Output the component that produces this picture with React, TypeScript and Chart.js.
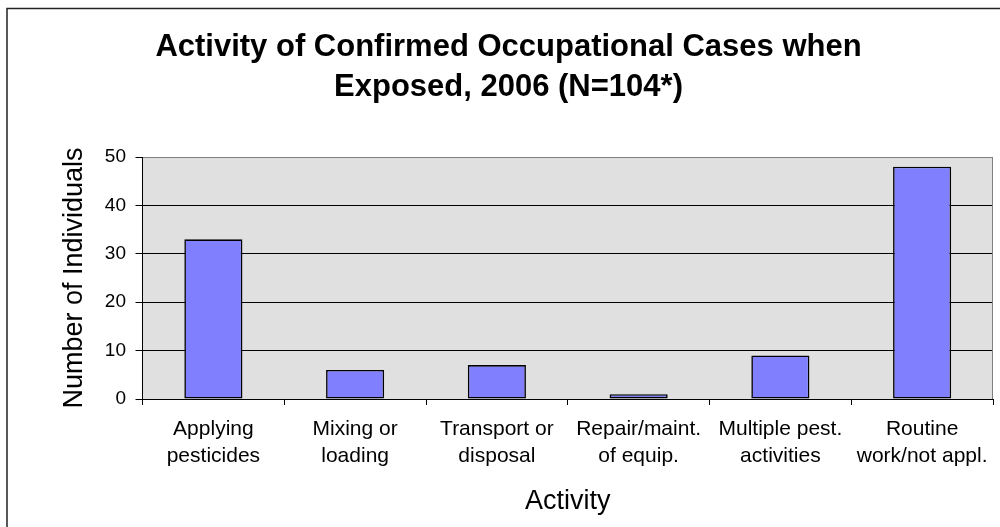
import React, { useEffect, useRef } from "react";
import { Chart, registerables } from "chart.js";

Chart.register(...registerables);

const titleLines = ["Activity of Confirmed Occupational Cases when", "Exposed, 2006 (N=104*)"];
const categories = [
  ["Applying", "pesticides"],
  ["Mixing or", "loading"],
  ["Transport or", "disposal"],
  ["Repair/maint.", "of equip."],
  ["Multiple pest.", "activities"],
  ["Routine", "work/not appl."],
];
const counts = [33, 6, 7, 1, 9, 48];
const yMin = 0;
const yMax = 50;
const yStep = 10;
const xTitle = "Activity";
const yTitle = "Number of Individuals";

const FONT = "'Liberation Sans', Arial, Helvetica, sans-serif";

const framePlugin = {
  id: "framePlugin",
  beforeDraw(chart: any) {
    const { ctx, chartArea, width, height } = chart;
    ctx.save();
    ctx.fillStyle = "#ffffff";
    ctx.fillRect(0, 0, width, height);
    ctx.fillStyle = "#E0E0E0";
    ctx.fillRect(chartArea.left, chartArea.top, chartArea.right - chartArea.left, chartArea.bottom - chartArea.top);
    ctx.strokeStyle = "#222222";
    ctx.lineWidth = 1.5;
    ctx.strokeRect(7, 8.5, 1010, 540);
    ctx.restore();
  },
  beforeDatasetsDraw(chart: any) {
    const { ctx, chartArea } = chart;
    ctx.save();
    ctx.strokeStyle = "#808080";
    ctx.lineWidth = 1;
    ctx.beginPath();
    const x = Math.round(chartArea.right) - 0.5;
    ctx.moveTo(x, chartArea.top);
    ctx.lineTo(x, chartArea.bottom);
    ctx.stroke();
    ctx.restore();
  },
};

export default function App() {
  const canvasRef = useRef<HTMLCanvasElement | null>(null);

  useEffect(() => {
    if (!canvasRef.current) return;
    const chart = new Chart(canvasRef.current, {
      type: "bar",
      data: {
        labels: categories,
        datasets: [
          {
            data: counts,
            backgroundColor: "#8080FF",
            borderColor: "#000000",
            borderWidth: 1.6,
            borderSkipped: false,
            categoryPercentage: 1,
            barPercentage: 0.41,
          },
        ],
      },
      options: {
        animation: false,
        responsive: false,
        maintainAspectRatio: false,
        layout: { padding: { left: 24, right: 7, top: 0, bottom: 0 } },
        plugins: {
          legend: { display: false },
          tooltip: { enabled: false },
          title: {
            display: true,
            text: titleLines,
            color: "#000000",
            font: { family: FONT, size: 31, weight: "bold", lineHeight: 40 / 31 },
            padding: { top: 27.5, bottom: 49.5 },
          },
        },
        scales: {
          x: {
            type: "category",
            offset: true,
            grid: {
              offset: true,
              drawOnChartArea: false,
              drawTicks: true,
              tickLength: 6,
              tickColor: "#000000",
              color: "#000000",
            },
            border: { display: true, color: "#000000", width: 1 },
            ticks: {
              color: "#000000",
              font: { family: FONT, size: 21, lineHeight: 26.5 / 21 },
              padding: 11,
              maxRotation: 0,
              minRotation: 0,
              autoSkip: false,
            },
            title: {
              display: true,
              text: xTitle,
              color: "#000000",
              font: { family: FONT, size: 27, lineHeight: 1.2 },
              padding: { top: 0, bottom: 8.8 },
            },
            afterFit(scale: any) {
              scale.height = 128;
            },
          },
          y: {
            min: yMin,
            max: yMax,
            grid: {
              color: (ctx: any) => (ctx.tick && ctx.tick.value === yMax ? "#808080" : "#000000"),
              tickColor: "#000000",
              tickLength: 7,
              lineWidth: 1,
            },
            border: { display: true, color: "#000000", width: 1 },
            ticks: {
              stepSize: yStep,
              color: "#000000",
              font: { family: FONT, size: 19 },
              padding: 9.5,
            },
            title: {
              display: true,
              text: yTitle,
              color: "#000000",
              font: { family: FONT, size: 27, lineHeight: 1.2 },
              padding: { top: 34.8, bottom: 0 },
            },
            afterFit(scale: any) {
              scale.width = 118.5;
            },
          },
        },
      },
      plugins: [framePlugin],
    });
    return () => chart.destroy();
  }, []);

  return (
    <div style={{ position: "absolute", left: 0, top: 0, width: 1000, height: 527, overflow: "hidden", background: "#fff" }}>
      <canvas ref={canvasRef} width={1000} height={527} style={{ display: "block" }} />
    </div>
  );
}
